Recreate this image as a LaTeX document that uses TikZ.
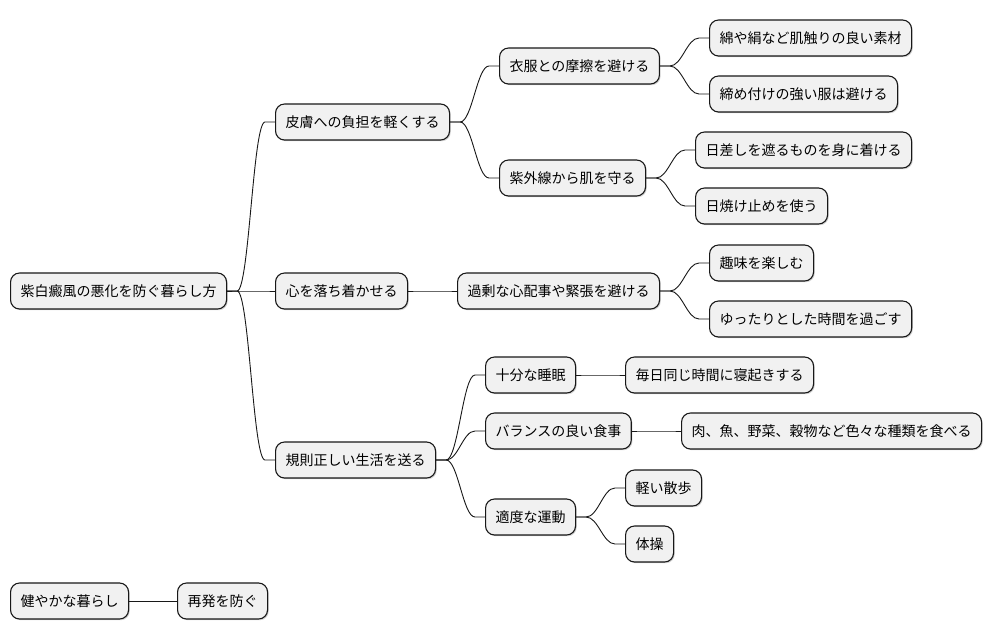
\documentclass[tikz,border=0pt]{standalone}
\usepackage{fontspec}
\setmainfont{Noto Sans CJK JP}
\usetikzlibrary{calc,shadows}
\definecolor{boxfill}{HTML}{F1F1F1}
\definecolor{boxline}{HTML}{181818}
\tikzset{
  mm/.style={draw=boxline, line width=1.1pt, fill=boxfill, rounded corners=9pt,
    minimum height=36pt, inner xsep=10pt, inner ysep=0pt, anchor=west,
    font=\fontsize{14pt}{16pt}\selectfont,
    drop shadow={shadow xshift=1.2pt, shadow yshift=-1.2pt, fill=black, opacity=0.18}},
  link/.style={draw=boxline, line width=0.9pt}
}
\newcommand{\conn}[2]{\draw[link] (#1.east) -- ++(10,0) to[out=0,in=180,distance=12pt] ($(#2.west)+(-10,0)$) -- (#2.west);}
\begin{document}
\begin{tikzpicture}[x=1pt,y=-1pt]
\useasboundingbox[fill=white] (0,0) rectangle (992,640);
\node[mm] (root) at (10,291) {紫白癜風の悪化を防ぐ暮らし方};
\node[mm] (skin) at (275,122) {皮膚への負担を軽くする};
\node[mm] (cloth) at (499,66) {衣服との摩擦を避ける};
\node[mm] (cotton) at (709,38) {綿や絹など肌触りの良い素材};
\node[mm] (tight) at (709,94) {締め付けの強い服は避ける};
\node[mm] (uv) at (499,178) {紫外線から肌を守る};
\node[mm] (shade) at (695,150) {日差しを遮るものを身に着ける};
\node[mm] (sunscreen) at (695,206) {日焼け止めを使う};
\node[mm] (mind) at (275,291) {心を落ち着かせる};
\node[mm] (worry) at (457,291) {過剰な心配事や緊張を避ける};
\node[mm] (hobby) at (709,263) {趣味を楽しむ};
\node[mm] (relax) at (709,319) {ゆったりとした時間を過ごす};
\node[mm] (life) at (275,460) {規則正しい生活を送る};
\node[mm] (sleep) at (485,375) {十分な睡眠};
\node[mm] (sametime) at (625,375) {毎日同じ時間に寝起きする};
\node[mm] (meal) at (485,431) {バランスの良い食事};
\node[mm] (food) at (681,431) {肉、魚、野菜、穀物など色々な種類を食べる};
\node[mm] (exercise) at (485,517) {適度な運動};
\node[mm] (walk) at (625,488) {軽い散歩};
\node[mm] (gym) at (625,544) {体操};
\node[mm] (health) at (10,601) {健やかな暮らし};
\node[mm] (prevent) at (177,601) {再発を防ぐ};
\conn{root}{skin}
\conn{root}{mind}
\conn{root}{life}
\conn{skin}{cloth}
\conn{skin}{uv}
\conn{cloth}{cotton}
\conn{cloth}{tight}
\conn{uv}{shade}
\conn{uv}{sunscreen}
\conn{mind}{worry}
\conn{worry}{hobby}
\conn{worry}{relax}
\conn{life}{sleep}
\conn{life}{meal}
\conn{life}{exercise}
\conn{sleep}{sametime}
\conn{meal}{food}
\conn{exercise}{walk}
\conn{exercise}{gym}
\conn{health}{prevent}
\end{tikzpicture}
\end{document}
